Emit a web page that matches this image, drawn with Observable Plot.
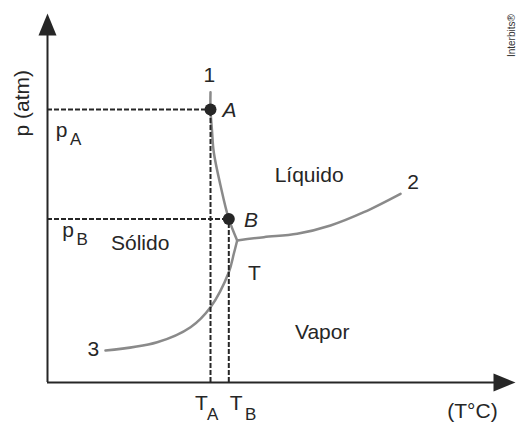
<!DOCTYPE html>
<html>
<head>
<meta charset="utf-8">
<script src="https://cdn.jsdelivr.net/npm/d3@7"></script>
<script src="https://cdn.jsdelivr.net/npm/@observablehq/plot@0.6"></script>
<style>
  html, body { margin: 0; padding: 0; background: #fff; }
  #chart svg { display: block; overflow: visible; }
</style>
</head>
<body>
<div id="chart"></div>
<script>
// Curve data in chart units (temperature T, pressure p)
const curve1T = [34.83, 34.83, 35.15, 35.53, 36.97, 38.74, 40.53];
const curve1p = [78.67, 73.98, 68.29, 62.41, 53.39, 44.31, 38.48];
const curve2T = [40.53, 46.22, 53.35, 60.47, 67.59, 75.43];
const curve2p = [38.48, 39.38, 40.30, 42.55, 46.15, 51.14];
const curve3T = [40.53, 39.81, 38.74, 34.83, 30.56, 23.44, 12.39];
const curve3p = [38.48, 34.88, 29.89, 20.41, 14.99, 10.92, 8.67];

const pointNames = ["A", "B"];
const pointT = [34.83, 38.74];
const pointP = [73.98, 44.31];

const regionLabels = ["Líquido", "Sólido", "Vapor"];
const regionT = [55.9, 19.8, 58.7];
const regionP = [56.1, 37.7, 13.7];

const curveLabels = ["1", "2", "3", "T"];
const curveLabelT = [34.6, 78.1, 9.8, 44.2];
const curveLabelP = [83.2, 54.3, 9.1, 29.7];

const pointLabelT = [38.9, 43.5];
const pointLabelP = [73.7, 44.0];

// axis tick labels (main letter + subscript)
const tickMain = ["T", "T", "p", "p"];
const tickSub = ["A", "B", "A", "B"];
const tickMainT = [32.9, 40.3, 3.0, 4.4];
const tickMainP = [-5.7, -5.7, 68.4, 41.2];
const tickSubT = [35.3, 43.4, 6.0, 7.4];
const tickSubP = [-8.8, -8.8, 65.9, 38.8];

const xAxisTitle = "(T°C)";
const yAxisTitle = "p (atm)";
const credit = "Interbits®";

// Build tables
const curves = [
  ...curve1T.map((t, i) => ({c: "1", T: t, p: curve1p[i]})),
  ...curve2T.map((t, i) => ({c: "2", T: t, p: curve2p[i]})),
  ...curve3T.map((t, i) => ({c: "3", T: t, p: curve3p[i]}))
];
const points = pointNames.map((n, i) => ({n, T: pointT[i], p: pointP[i], lt: pointLabelT[i], lp: pointLabelP[i]}));
const regions = regionLabels.map((s, i) => ({s, T: regionT[i], p: regionP[i]}));
const cLabels = curveLabels.map((s, i) => ({s, T: curveLabelT[i], p: curveLabelP[i]}));
const ticksMain = tickMain.map((s, i) => ({s, T: tickMainT[i], p: tickMainP[i]}));
const ticksSub = tickSub.map((s, i) => ({s, T: tickSubT[i], p: tickSubP[i]}));

const ink = "#262626";
const font = "'Liberation Sans', Arial, Helvetica, sans-serif";

// arrow head symbol: tip at origin, base behind
const arrowHead = {
  draw(ctx) {
    ctx.moveTo(0, 0);
    ctx.lineTo(9, 22);
    ctx.lineTo(-9, 22);
    ctx.closePath();
  }
};

const chart = Plot.plot({
  width: 516,
  height: 423,
  marginLeft: 47,
  marginRight: 1,
  marginTop: 13,
  marginBottom: 41,
  style: {fontFamily: font, background: "#fff", overflow: "visible"},
  x: {domain: [0, 100], axis: null},
  y: {domain: [0, 100], axis: null},
  marks: [
    // axes
    Plot.ruleX([0], {y1: 0, y2: 96, stroke: ink, strokeWidth: 2}),
    Plot.ruleY([0], {x1: 0, x2: 96, stroke: ink, strokeWidth: 2}),
    Plot.dot([{T: 0, p: 100}], {x: "T", y: "p", symbol: arrowHead, fill: ink, stroke: "none"}),
    Plot.dot([{T: 100, p: 0}], {x: "T", y: "p", symbol: arrowHead, rotate: 90, fill: ink, stroke: "none"}),
    // curves
    Plot.line(curves, {x: "T", y: "p", z: "c", curve: "catmull-rom", stroke: "#8a8a8a", strokeWidth: 2.5}),
    // dashed guides
    Plot.ruleY(points, {y: "p", x1: 0, x2: "T", stroke: ink, strokeWidth: 2, strokeDasharray: "5,2"}),
    Plot.ruleX(points, {x: "T", y1: 0, y2: "p", stroke: ink, strokeWidth: 2, strokeDasharray: "5,2"}),
    Plot.dot(points, {x: "T", y: "p", r: 6, fill: ink, stroke: "none"}),
    // labels
    Plot.text(points, {x: "lt", y: "lp", text: "n", fontSize: 21, fontStyle: "italic", fill: ink}),
    Plot.text(regions, {x: "T", y: "p", text: "s", fontSize: 21, fill: ink}),
    Plot.text(cLabels, {x: "T", y: "p", text: "s", fontSize: 21, fill: ink}),
    Plot.text(ticksMain, {x: "T", y: "p", text: "s", fontSize: 21, fill: ink}),
    Plot.text(ticksSub, {x: "T", y: "p", text: "s", fontSize: 17, fill: ink}),
    Plot.text([{s: xAxisTitle, T: 90.8, p: -7.9}], {x: "T", y: "p", text: "s", fontSize: 21, fill: ink}),
    Plot.text([{s: yAxisTitle, T: -5.34, p: 75.7}], {x: "T", y: "p", text: "s", fontSize: 21, rotate: -90, fill: ink}),
    Plot.text([{s: credit, T: 99.25, p: 94.0}], {x: "T", y: "p", text: "s", fontSize: 10, rotate: -90, fill: "#333"})
  ]
});
document.getElementById("chart").append(chart);
</script>
</body>
</html>
